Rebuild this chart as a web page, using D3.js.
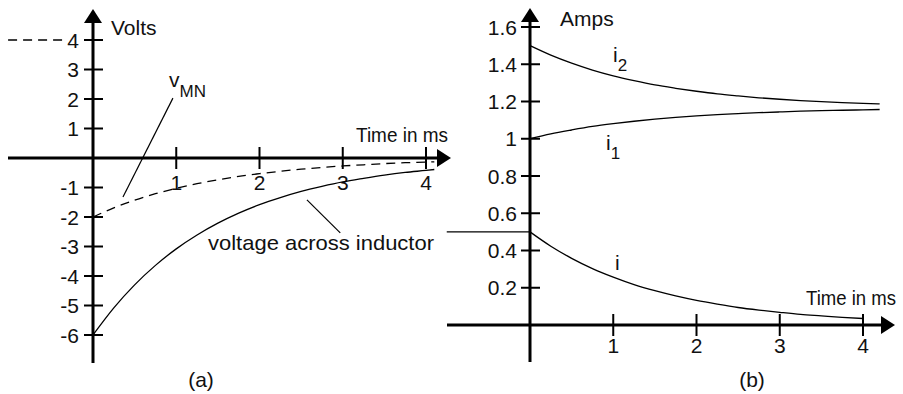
<!DOCTYPE html>
<html>
<head>
<meta charset="utf-8">
<script src="https://cdn.jsdelivr.net/npm/d3@7"></script>
<style>
  body { margin: 0; background: #fff; }
  svg text { font-family: "Liberation Sans", Arial, sans-serif; font-size: 21px; fill: #111; }
</style>
</head>
<body>
<div class="board"></div>
<script>

// time samples (ms)
var timeA = [0, 0.25, 0.5, 0.75, 1, 1.25, 1.5, 1.75, 2, 2.25, 2.5, 2.75, 3, 3.25, 3.5, 3.75, 4, 4.1];
var timeB = [0, 0.25, 0.5, 0.75, 1, 1.25, 1.5, 1.75, 2, 2.25, 2.5, 2.75, 3, 3.25, 3.5, 3.75, 4, 4.2];

// (a) volts
var vInductor = [-6, -5.08, -4.30, -3.64, -3.08, -2.61, -2.21, -1.87, -1.58, -1.34, -1.13, -0.96, -0.81, -0.69, -0.58, -0.49, -0.42, -0.39];
var vMN = [-2, -1.69, -1.43, -1.21, -1.03, -0.87, -0.74, -0.62, -0.53, -0.45, -0.38, -0.32, -0.27, -0.23, -0.19, -0.16, -0.14, -0.13];
var vMNbefore = 4;

// (b) amps
var iL = [0.5, 0.423, 0.358, 0.303, 0.257, 0.217, 0.184, 0.156, 0.132, 0.112, 0.094, 0.080, 0.068, 0.057, 0.049, 0.041, 0.035];
var i1 = [1.0, 1.026, 1.047, 1.066, 1.081, 1.094, 1.105, 1.115, 1.123, 1.130, 1.135, 1.140, 1.144, 1.148, 1.151, 1.153, 1.155, 1.157];
var i2 = [1.5, 1.449, 1.406, 1.369, 1.338, 1.312, 1.289, 1.271, 1.255, 1.241, 1.230, 1.220, 1.212, 1.205, 1.199, 1.194, 1.190, 1.187];
var iBefore = 0.5;

// tick labels
var timeTicks = [1, 2, 3, 4];
var voltTicks = [4, 3, 2, 1, -1, -2, -3, -4, -5, -6];
var ampTicks = [1.6, 1.4, 1.2, 1, 0.8, 0.6, 0.4, 0.2];
var ampLabels = ['1.6', '1.4', '1.2', '1', '0.8', '0.6', '0.4', '0.2'];

var svg = d3.select('.board').append('svg')
            .attr('width', 903)
            .attr('height', 394);

// scales
var xA = d3.scaleLinear().domain([0, 4]).range([93, 426]);
var yA = d3.scaleLinear().domain([0, -6]).range([158, 335]);
var xB = d3.scaleLinear().domain([0, 4]).range([530, 863]);
var yB = d3.scaleLinear().domain([0, 1.6]).range([325, 27]);

var drawAxes = function(x, y, xFrom, xTip, yTop, yBottom) {
  var x0 = x(0), y0 = y(0);
  // axis lines
  svg.append('line').attr('x1', xFrom).attr('x2', xTip - 8).attr('y1', y0).attr('y2', y0)
     .attr('stroke', '#000').attr('stroke-width', 3);
  svg.append('line').attr('x1', x0).attr('x2', x0).attr('y1', yTop + 8).attr('y2', yBottom)
     .attr('stroke', '#000').attr('stroke-width', 3);
  // arrow heads
  svg.append('path')
     .attr('d', 'M' + xTip + ',' + y0 + 'L' + (xTip - 14) + ',' + (y0 - 9) + 'L' + (xTip - 14) + ',' + (y0 + 9) + 'Z')
     .attr('fill', '#000');
  svg.append('path')
     .attr('d', 'M' + x0 + ',' + yTop + 'L' + (x0 - 9) + ',' + (yTop + 14) + 'L' + (x0 + 9) + ',' + (yTop + 14) + 'Z')
     .attr('fill', '#000');
};

var drawTimeTicks = function(x, y, labelY) {
  svg.selectAll(null).data(timeTicks).enter().append('line')
     .attr('x1', function(d) { return x(d); })
     .attr('x2', function(d) { return x(d); })
     .attr('y1', y(0) - 11)
     .attr('y2', y(0) + 11)
     .attr('stroke', '#000').attr('stroke-width', 2);
  svg.selectAll(null).data(timeTicks).enter().append('text')
     .attr('x', function(d) { return x(d); })
     .attr('y', labelY)
     .attr('text-anchor', 'middle')
     .text(function(d) { return d; });
};

var drawValueTicks = function(x, y, ticks, labels, labelX) {
  svg.selectAll(null).data(ticks).enter().append('line')
     .attr('x1', x(0) - 9)
     .attr('x2', x(0) + 10)
     .attr('y1', function(d) { return y(d); })
     .attr('y2', function(d) { return y(d); })
     .attr('stroke', '#000').attr('stroke-width', 2);
  svg.selectAll(null).data(ticks).enter().append('text')
     .attr('x', labelX)
     .attr('y', function(d) { return y(d); })
     .attr('dy', '0.36em')
     .attr('text-anchor', 'end')
     .text(function(d, i) { return labels[i]; });
};

var curve = function(x, y, ts, vs, dashed) {
  var line = d3.line()
               .x(function(d) { return x(d[0]); })
               .y(function(d) { return y(d[1]); })
               .curve(d3.curveMonotoneX);
  svg.append('path')
     .attr('d', line(d3.zip(ts, vs)))
     .attr('fill', 'none')
     .attr('stroke', '#000')
     .attr('stroke-width', 1.3)
     .attr('stroke-dasharray', dashed ? '9,6' : null);
};

var leader = function(x, y, p, q) {
  svg.append('line')
     .attr('x1', x(p[0])).attr('y1', y(p[1]))
     .attr('x2', x(q[0])).attr('y2', y(q[1]))
     .attr('stroke', '#000').attr('stroke-width', 1.2);
};

// ---------- panel (a)
drawAxes(xA, yA, 8, 451, 9, 363);
drawTimeTicks(xA, yA, 190);
drawValueTicks(xA, yA, voltTicks, voltTicks.map(String), 79);

svg.append('line')
   .attr('x1', xA(-1.02)).attr('x2', xA(-0.35))
   .attr('y1', yA(vMNbefore)).attr('y2', yA(vMNbefore))
   .attr('stroke', '#000').attr('stroke-width', 1.3)
   .attr('stroke-dasharray', '9,6');

curve(xA, yA, timeA, vMN, true);
curve(xA, yA, timeA, vInductor, false);

leader(xA, yA, [0.96, 2.03], [0.36, -1.32]);
leader(xA, yA, [2.57, -1.42], [2.97, -2.54]);

svg.append('text').attr('x', 111).attr('y', 35).text('Volts');
svg.append('text').attr('x', 356).attr('y', 142)
   .attr('textLength', 92).attr('lengthAdjust', 'spacingAndGlyphs').text('Time in ms');
var vmn = svg.append('text').attr('x', 169).attr('y', 87);
vmn.append('tspan').text('v');
vmn.append('tspan').attr('dy', 10).style('font-size', '17px').text('MN');
svg.append('text').attr('x', 208).attr('y', 250)
   .attr('textLength', 226).attr('lengthAdjust', 'spacingAndGlyphs').text('voltage across inductor');
svg.append('text').attr('x', 201).attr('y', 387).attr('text-anchor', 'middle').text('(a)');

// ---------- panel (b)
drawAxes(xB, yB, 447, 895, 8, 362);
drawTimeTicks(xB, yB, 353);
drawValueTicks(xB, yB, ampTicks, ampLabels, 517);

svg.append('line')
   .attr('x1', xB(-1.0)).attr('x2', xB(0))
   .attr('y1', yB(iBefore)).attr('y2', yB(iBefore))
   .attr('stroke', '#000').attr('stroke-width', 1.3);

curve(xB, yB, timeB.slice(0, iL.length), iL, false);
curve(xB, yB, timeB, i1, false);
curve(xB, yB, timeB, i2, false);

svg.append('text').attr('x', 806).attr('y', 305)
   .attr('textLength', 90).attr('lengthAdjust', 'spacingAndGlyphs').text('Time in ms');
svg.append('text').attr('x', 560).attr('y', 26).text('Amps');
var t2 = svg.append('text').attr('x', 613).attr('y', 62);
t2.append('tspan').text('i');
t2.append('tspan').attr('dy', 9).style('font-size', '17px').text('2');
var t1 = svg.append('text').attr('x', 606).attr('y', 150);
t1.append('tspan').text('i');
t1.append('tspan').attr('dy', 9).style('font-size', '17px').text('1');
svg.append('text').attr('x', 615).attr('y', 270).text('i');
svg.append('text').attr('x', 752).attr('y', 387).attr('text-anchor', 'middle').text('(b)');

</script>
</body>
</html>
